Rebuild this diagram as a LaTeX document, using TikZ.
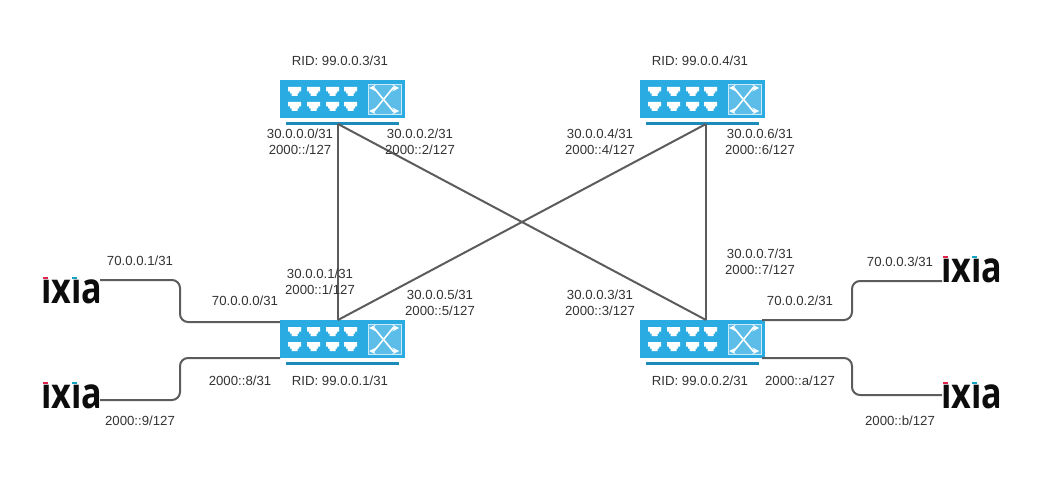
\documentclass[tikz,border=0pt]{standalone}
\usepackage{fontspec}
\setmainfont{Liberation Sans}
\newfontfamily\logofont{Open Sans}
\definecolor{swblue}{HTML}{2AABE2}
\definecolor{swbar}{HTML}{1A8BBA}
\definecolor{swpanel}{HTML}{5BBDE8}
\definecolor{linkgray}{HTML}{5C5C5C}
\definecolor{ixiared}{HTML}{E0234A}
\definecolor{ixiacyan}{HTML}{12A5C4}
\tikzset{
  link/.style={draw=linkgray,line width=1.5pt},
  uplink/.style={link,rounded corners=6pt},
  lbl/.style={text=black!80,font=\fontsize{9.9}{12.4}\selectfont,align=center,inner sep=0pt,yshift=-0.6pt},
  logotext/.style={font=\logofont\bfseries\fontsize{32}{32}\selectfont,inner sep=0pt,anchor=base west,text=black!95,xscale=0.8},
  swport/.pic={
    \fill[white] (0,0) -- (13,0) -- (13,4.5) -- (11,4.5) -- (11,6.5) -- (9.5,6.5) -- (9.5,9) -- (3.5,9) -- (3.5,6.5) -- (2,6.5) -- (2,4.5) -- (0,4.5) -- cycle;
  },
  switchicon/.pic={
    \node[fill=swblue,minimum width=93.75pt,minimum height=28.5pt,inner sep=0pt,anchor=north west] (-body) at (0,0) {};
    \node[fill=swbar,minimum width=84.75pt,minimum height=2.25pt,inner sep=0pt,anchor=north west] (-bar) at (6,42) {};
    \node[draw=white!75!swblue,line width=0.9pt,fill=swpanel,minimum width=25pt,minimum height=22.5pt,inner sep=0pt,anchor=north west] (-panel) at (87.5,4) {};
    \foreach \x in {8,27,46,64} {
      \pic at (\x,7) {swport};
      \pic at (\x,22) {swport};
    }
    \draw[white,line width=1.2pt,<->,>=stealth] (89,8) -- (94,8) -- (113,31) -- (119,31);
    \draw[white,line width=1.2pt,<->,>=stealth] (89,31) -- (94,31) -- (113,8) -- (119,8);
  }
}
\begin{document}
\begin{tikzpicture}[x=0.75pt,y=-0.75pt]
  \useasboundingbox (0,0) rectangle (1040,485);

  % switches
  \pic (s3) at (280,80) {switchicon};
  \pic (s4) at (640,80) {switchicon};
  \pic (s1) at (280,320) {switchicon};
  \pic (s2) at (640,320) {switchicon};

  % traffic generators
  \node[logotext] (ix1) at (41,303) {ıxıa};
  \node[logotext] (ix2) at (41,408) {ıxıa};
  \node[logotext] (ix3) at (941,282) {ıxıa};
  \node[logotext] (ix4) at (941,408) {ıxıa};
  \foreach \x/\y in {42/277,42/382,942/256,942/382} {
    \fill[ixiared] (\x+1,\y) rectangle (\x+6,\y+2);
    \fill[ixiacyan] (\x+30,\y) rectangle (\x+35,\y+2);
  }

  % connection points
  \coordinate (s3p) at (338,124);
  \coordinate (s4p) at (706,124);
  \coordinate (s1p) at (338,320);
  \coordinate (s2p) at (706,320);
  \coordinate (s1a) at (280,322);
  \coordinate (s1b) at (280,358);
  \coordinate (s2a) at (762,320);
  \coordinate (s2b) at (762,358);
  \coordinate (ix1p) at (100,280);
  \coordinate (ix2p) at (100,400);
  \coordinate (ix3p) at (942,281);
  \coordinate (ix4p) at (942,395);

  \draw[link] (s3p) -- (s1p);
  \draw[link] (s3p) -- (s2p);
  \draw[link] (s4p) -- (s1p);
  \draw[link] (s4p) -- (s2p);
  \draw[uplink] (ix1p) -- (180,280) -- (180,322) -- (s1a);
  \draw[uplink] (ix2p) -- (180,400) -- (180,358) -- (s1b);
  \draw[uplink] (s2a) -- (852,320) -- (852,281) -- (ix3p);
  \draw[uplink] (s2b) -- (852,358) -- (852,395) -- (ix4p);

  % labels
  \node[lbl] (r3) at (340,60) {RID: 99.0.0.3/31};
  \node[lbl] (r4) at (700,60) {RID: 99.0.0.4/31};
  \node[lbl] (r1) at (340,380) {RID: 99.0.0.1/31};
  \node[lbl] (r2) at (700,380) {RID: 99.0.0.2/31};

  \node[lbl] (l30) at (300,141) {30.0.0.0/31\\2000::/127};
  \node[lbl] (l32) at (420,141) {30.0.0.2/31\\2000::2/127};
  \node[lbl] (l34) at (600,141) {30.0.0.4/31\\2000::4/127};
  \node[lbl] (l36) at (760,141) {30.0.0.6/31\\2000::6/127};
  \node[lbl] (l31) at (320,281) {30.0.0.1/31\\2000::1/127};
  \node[lbl] (l35) at (440,302) {30.0.0.5/31\\2000::5/127};
  \node[lbl] (l33) at (600,302) {30.0.0.3/31\\2000::3/127};
  \node[lbl] (l37) at (760,261) {30.0.0.7/31\\2000::7/127};

  \node[lbl] (u1) at (140,260) {70.0.0.1/31};
  \node[lbl] (u0) at (245,300) {70.0.0.0/31};
  \node[lbl] (u8) at (240,380) {2000::8/31};
  \node[lbl] (u9) at (140,420) {2000::9/127};
  \node[lbl] (u2) at (800,300) {70.0.0.2/31};
  \node[lbl] (u3) at (900,261) {70.0.0.3/31};
  \node[lbl] (ua) at (800,380) {2000::a/127};
  \node[lbl] (ub) at (900,420) {2000::b/127};
\end{tikzpicture}
\end{document}
